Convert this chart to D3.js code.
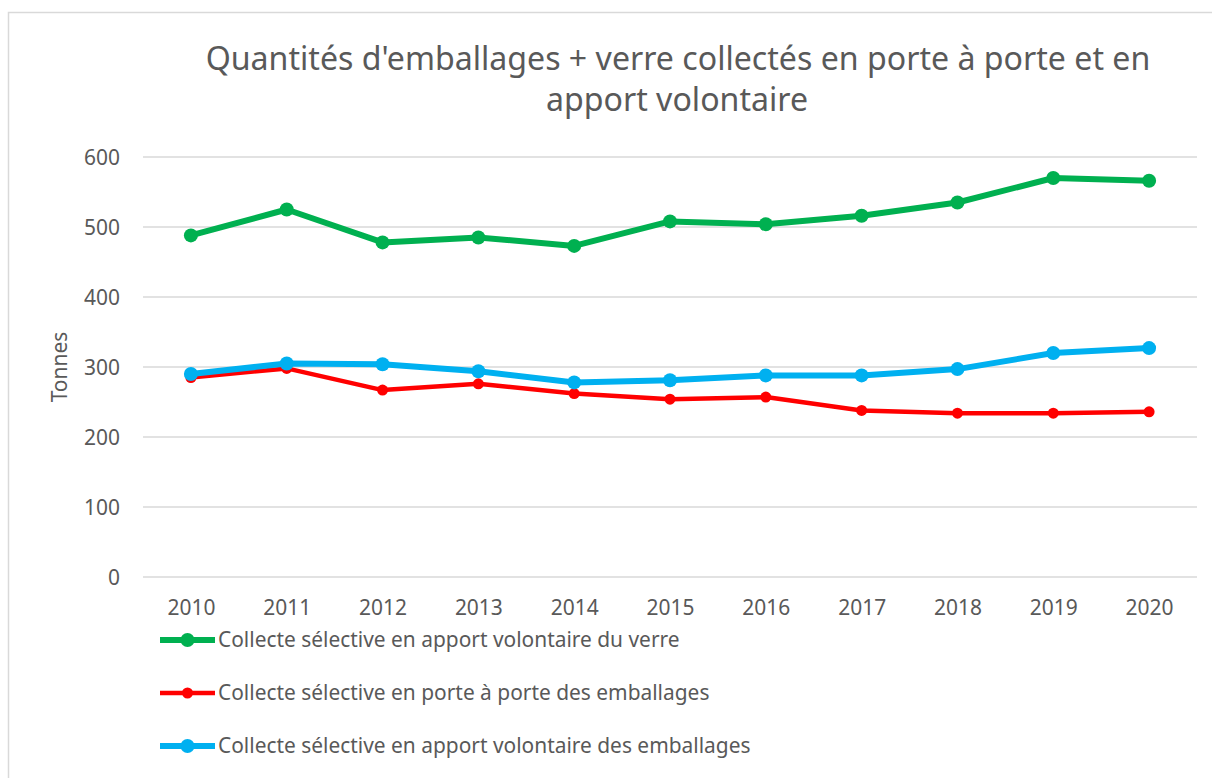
<!DOCTYPE html>
<html>
<head>
<meta charset="utf-8">
<script src="https://cdn.jsdelivr.net/npm/d3@7"></script>
<style>
  body { margin: 0; background: #fff; }
  text { font-family: "Noto Sans", sans-serif; fill: #595959; }
</style>
</head>
<body>
<div id="chart"></div>
<script>
// values (tonnes)
const years = ["2010", "2011", "2012", "2013", "2014", "2015", "2016", "2017", "2018", "2019", "2020"];
const verreApport      = [488, 525, 478, 485, 473, 508, 504, 516, 535, 570, 566];
const emballagesPorte  = [285, 298, 267, 276, 262, 254, 257, 238, 234, 234, 236];
const emballagesApport = [290, 305, 304, 294, 278, 281, 288, 288, 297, 320, 327];
const seriesNames = [
  "Collecte sélective en apport volontaire du verre",
  "Collecte sélective en porte à porte des emballages",
  "Collecte sélective en apport volontaire des emballages"
];
const yTicks = [0, 100, 200, 300, 400, 500, 600];
const titleLines = ["Quantités d'emballages + verre collectés en porte à porte et en", "apport volontaire"];

const width = 1212, height = 778;
const margin = {top: 157, right: 15, bottom: 201, left: 143};

const series = [
  {name: seriesNames[0], values: verreApport,      color: "#00B050", lw: 6,   r: 7},
  {name: seriesNames[1], values: emballagesPorte,  color: "#FF0000", lw: 4.5, r: 5.5},
  {name: seriesNames[2], values: emballagesApport, color: "#00B0F0", lw: 6,   r: 7}
];

const svg = d3.select("#chart").append("svg")
  .attr("width", width)
  .attr("height", height);

// chart frame (right and bottom edges fall outside the picture)
svg.append("rect")
  .attr("x", 8.5).attr("y", 12.5)
  .attr("width", 1230).attr("height", 800)
  .attr("fill", "none")
  .attr("stroke", "#D9D9D9")
  .attr("stroke-width", 1.5);

function fitText(sel, target) {
  var w = sel.node().getComputedTextLength();
  var fs = parseFloat(sel.attr("font-size"));
  var nfs = fs * target / w;
  sel.attr("font-size", nfs);
  return nfs;
}

// title
const t1 = svg.append("text")
  .attr("x", 678).attr("y", 70)
  .attr("text-anchor", "middle")
  .attr("font-size", 30)
  .text(titleLines[0]);
const titleSize = fitText(t1, 945);
svg.append("text")
  .attr("x", 677).attr("y", 111)
  .attr("text-anchor", "middle")
  .attr("font-size", titleSize)
  .text(titleLines[1]);

const x = d3.scalePoint()
  .domain(years)
  .range([margin.left, width - margin.right])
  .padding(0.5);

const y = d3.scaleLinear()
  .domain([0, 600])
  .range([height - margin.bottom, margin.top]);

// gridlines
svg.append("g")
  .selectAll("line")
  .data(yTicks)
  .enter().append("line")
    .attr("x1", margin.left)
    .attr("x2", width - margin.right)
    .attr("y1", d => y(d))
    .attr("y2", d => y(d))
    .attr("stroke", "#D9D9D9")
    .attr("stroke-width", 1.5);

// y axis labels
const yAxis = svg.append("g")
  .attr("transform", "translate(" + margin.left + ",0)")
  .call(d3.axisLeft(y).tickValues(yTicks).tickSize(0).tickPadding(23));
yAxis.select(".domain").remove();
yAxis.attr("font-family", null).attr("font-size", null);
yAxis.selectAll("text").attr("font-size", 18).attr("fill", null);
const probe = yAxis.selectAll("text").filter(d => d === 600);
const tickSize = fitText(probe, 36);
yAxis.selectAll("text").attr("font-size", tickSize);

// x axis labels
const xAxis = svg.append("g")
  .attr("transform", "translate(0," + (height - margin.bottom) + ")")
  .call(d3.axisBottom(x).tickSize(0));
xAxis.select(".domain").remove();
xAxis.attr("font-family", null).attr("font-size", null);
xAxis.selectAll("text")
  .attr("font-size", tickSize)
  .attr("fill", null)
  .attr("y", 31)
  .attr("dy", "0.35em");
yAxis.selectAll("text").attr("dy", "0.35em");

// y axis title
svg.append("text")
  .attr("transform", "translate(67,367) rotate(-90)")
  .attr("text-anchor", "middle")
  .attr("font-size", tickSize)
  .text("Tonnes");

// lines
const line = d3.line()
  .x((d, i) => x(years[i]))
  .y(d => y(d));

const sg = svg.append("g").selectAll("g")
  .data(series)
  .enter().append("g");

sg.append("path")
  .attr("d", d => line(d.values))
  .attr("fill", "none")
  .attr("stroke", d => d.color)
  .attr("stroke-width", d => d.lw)
  .attr("stroke-linejoin", "round")
  .attr("stroke-linecap", "round");

sg.each(function(s) {
  d3.select(this).selectAll("circle")
    .data(s.values)
    .enter().append("circle")
      .attr("cx", (d, i) => x(years[i]))
      .attr("cy", d => y(d))
      .attr("r", s.r)
      .attr("fill", s.color);
});

// legend
const legendY = d3.scalePoint()
  .domain(seriesNames)
  .range([640, 746]);

const lg = svg.append("g").selectAll("g")
  .data(series)
  .enter().append("g")
    .attr("transform", d => "translate(0," + legendY(d.name) + ")");

lg.append("line")
  .attr("x1", 160).attr("x2", 215)
  .attr("stroke", d => d.color)
  .attr("stroke-width", d => d.lw);
lg.append("circle")
  .attr("cx", 187.5)
  .attr("r", d => d.r)
  .attr("fill", d => d.color);
const legendTexts = lg.append("text")
  .attr("x", 218)
  .attr("dy", "0.35em")
  .attr("font-size", 18)
  .text(d => d.name);
const legendSize = fitText(d3.select(legendTexts.nodes()[0]), 462);
legendTexts.attr("font-size", legendSize);
</script>
</body>
</html>
